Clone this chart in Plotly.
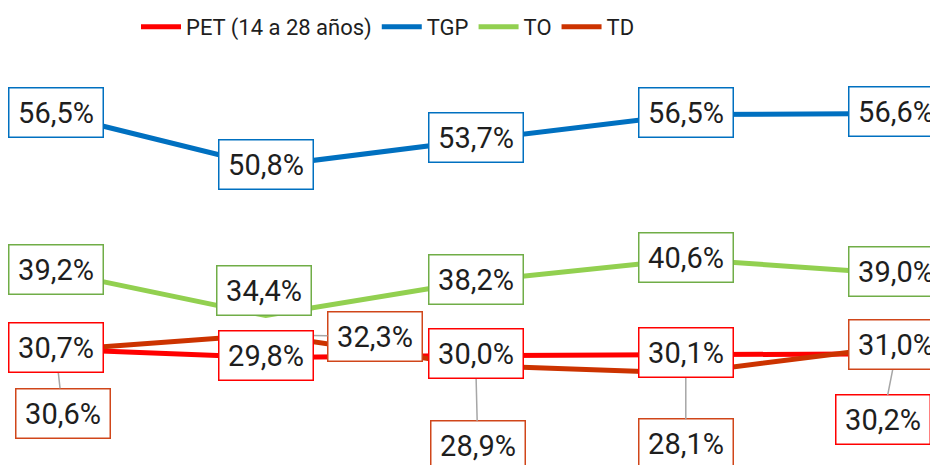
import plotly.graph_objects as go

categories = ["P1", "P2", "P3", "P4", "P5"]
pet = [30.7, 29.8, 30.0, 30.1, 30.2]
tgp = [56.5, 50.8, 53.7, 56.5, 56.6]
to_ = [39.2, 34.4, 38.2, 40.6, 39.0]
td = [30.6, 32.3, 28.9, 28.1, 31.0]

series = [
    ("PET (14 a 28 años)", pet, "#FF0000", "#FF0000"),
    ("TGP", tgp, "#0070C0", "#0070C0"),
    ("TO", to_, "#92D050", "#70AD47"),
    ("TD", td, "#CC3300", "#D0461A"),
]

# label placement per series: None = centered on the point, (ax, ay, leader) offsets in px
offsets = {
    "PET (14 a 28 años)": [None, None, None, None, (-13, 66, True)],
    "TGP": [None, None, None, None, None],
    "TO": [None, (-2, -23, False), None, None, None],
    "TD": [(7, 63, True), (109, 2, True), (2, 80, True), (0, 71, True), None],
}

FONT = "Roboto, sans-serif"
fig = go.Figure()
xi = list(range(len(categories)))
for name, vals, col, bcol in series:
    fig.add_trace(go.Scatter(x=xi, y=vals, mode="lines", name=name,
                             line=dict(color=col, width=5)))

def fmt(v):
    return f"{v:.1f}".replace(".", ",") + "%"

leader_anns = []
plain_anns = []
for name, vals, col, bcol in series:
    for i, v in enumerate(vals):
        off = offsets[name][i]
        base = dict(x=xi[i], y=v, text=fmt(v), font=dict(family=FONT, size=29, color="#1e1e1e"),
                    bgcolor="white", bordercolor=bcol, borderwidth=1.5, borderpad=1,
                    width=91, height=46, align="center", valign="middle")
        if off is None:
            plain_anns.append(dict(base, showarrow=False, yshift=2))
        elif off[2]:
            leader_anns.append(dict(base, showarrow=True, ax=off[0], ay=off[1],
                                    arrowhead=0, arrowwidth=1.5, arrowcolor="#A6A6A6",
                                    standoff=0, startstandoff=0))
        else:
            plain_anns.append(dict(base, showarrow=False, xshift=off[0], yshift=-off[1] + 2))

W, H = 930, 465
fig.update_layout(
    width=W, height=H,
    margin=dict(l=0, r=0, t=0, b=0),
    paper_bgcolor="white", plot_bgcolor="white",
    xaxis=dict(range=[-0.2657, 4.1629], visible=False, fixedrange=True),
    yaxis=dict(range=[17.98, 69.08], visible=False, fixedrange=True),
    annotations=leader_anns + plain_anns,
    showlegend=True,
    legend=dict(orientation="h", x=136 / W, xanchor="left", y=1 - 27 / H, yanchor="middle",
                font=dict(family=FONT, size=22, color="#1e1e1e"), bgcolor="rgba(0,0,0,0)",
                itemwidth=40, tracegroupgap=0),
)

fig.write_html("out.html", config={"displayModeBar": False},
               post_script="document.body.style.margin='0';document.body.style.overflow='hidden';")
